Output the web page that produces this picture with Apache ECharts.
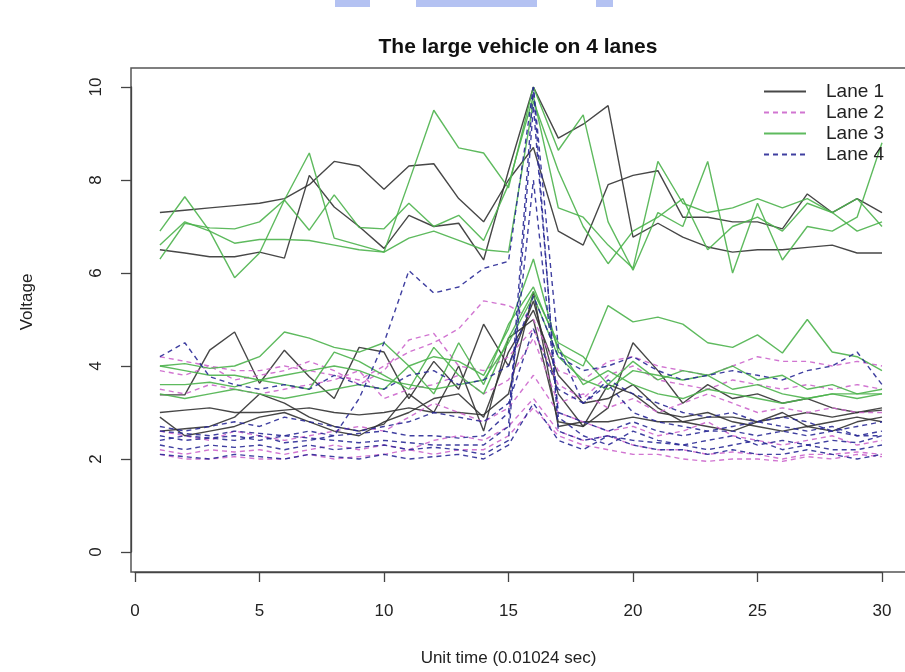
<!DOCTYPE html>
<html>
<head>
<meta charset="utf-8">
<script src="https://cdn.jsdelivr.net/npm/echarts@6/dist/echarts.min.js"></script>
<style>
    html, body { margin: 0; padding: 0; background: #fff; }
    #chart { width: 905px; height: 672px; }
</style>
</head>
<body>
<div id="chart"></div>
<script>
// unit time steps 1..30
let timeSteps = [1,2,3,4,5,6,7,8,9,10,11,12,13,14,15,16,17,18,19,20,21,22,23,24,25,26,27,28,29,30];
let laneNames = ['Lane 1', 'Lane 2', 'Lane 3', 'Lane 4'];
let xTicks = [0, 5, 10, 15, 20, 25, 30];
let yTicks = [0, 2, 4, 6, 8, 10];

// Lane 1 (black solid)
let lane1 = [
    [7.3,7.35,7.4,7.45,7.5,7.6,7.9,8.4,8.3,7.8,8.3,8.35,7.6,7.1,8.0,8.7,6.9,6.6,7.9,8.1,8.2,7.2,7.2,7.1,7.1,6.95,7.7,7.3,7.6,7.3],
    [6.5,6.43,6.35,6.35,6.45,6.32,8.1,7.42,7.0,6.53,7.24,7.0,7.07,6.28,8.2,10.0,8.9,9.2,9.6,6.77,7.07,6.77,6.56,6.45,6.5,6.5,6.55,6.6,6.43,6.43],
    [3.38,3.38,4.34,4.73,3.63,4.34,3.77,3.3,4.4,4.3,3.3,4.1,3.5,4.9,4.0,5.4,3.4,2.7,3.1,4.5,3.9,3.2,3.6,3.3,3.4,3.2,3.3,3.1,3.0,3.05],
    [3.0,3.05,3.1,3.0,3.0,3.05,3.1,3.0,2.95,3.0,3.1,3.0,3.0,2.95,3.4,5.6,2.7,2.8,2.8,2.9,2.8,2.8,2.9,2.9,2.8,2.9,3.0,2.9,3.0,3.1],
    [2.9,2.5,2.6,2.7,2.9,3.0,2.8,2.6,2.5,2.8,3.0,3.3,3.4,2.9,4.3,5.2,3.8,3.2,3.3,3.6,3.1,2.8,2.7,2.6,2.8,3.0,2.7,2.8,2.9,2.8],
    [2.6,2.65,2.7,2.9,3.4,3.2,2.9,2.7,2.6,2.75,3.4,3.0,4.0,2.6,4.6,5.0,2.8,2.7,3.6,3.4,3.0,2.9,3.0,2.8,2.7,2.6,2.7,2.6,2.8,2.9]
];
// Lane 2 (magenta dashed)
let lane2 = [
    [4.2,4.1,4.0,3.9,3.9,4.0,3.9,3.8,3.7,4.0,4.3,4.5,4.8,5.4,5.3,5.0,3.9,3.7,4.1,4.2,4.0,3.9,3.8,4.0,4.2,4.1,4.1,4.0,4.1,4.0],
    [3.9,3.8,4.0,3.7,3.8,3.9,4.1,3.9,3.6,3.9,4.56,4.7,4.0,3.9,4.2,4.8,3.6,3.3,3.8,4.0,3.7,3.6,3.5,3.7,3.6,3.5,3.6,3.5,3.6,3.5],
    [3.5,3.4,3.6,3.5,3.4,3.5,3.6,3.7,3.9,3.3,3.5,3.6,3.8,3.4,3.7,4.6,3.2,3.4,3.1,3.3,3.0,3.2,3.4,3.2,3.0,3.1,3.0,3.1,3.0,3.0],
    [2.2,2.1,2.2,2.15,2.2,2.1,2.2,2.3,2.2,2.3,2.2,2.4,2.5,2.4,2.7,3.3,2.6,2.4,2.5,2.3,2.2,2.2,2.1,2.15,2.1,2.0,2.1,2.1,2.15,2.1],
    [2.1,2.0,2.0,2.05,2.0,2.0,2.1,2.0,2.05,2.1,2.2,2.1,2.2,2.2,2.5,3.1,2.5,2.3,2.2,2.1,2.1,2.0,1.95,2.0,2.0,1.95,2.05,2.0,2.1,2.05],
    [2.6,2.5,2.4,2.6,2.5,2.4,2.5,2.6,2.7,2.6,2.9,3.2,3.0,2.8,3.1,3.8,3.0,2.8,2.6,2.7,2.5,2.6,2.8,2.5,2.4,2.3,2.4,2.5,2.3,2.4]
];
// Lane 3 (green solid)
let lane3 = [
    [6.9,7.64,6.9,5.9,6.43,7.57,8.58,6.75,6.6,6.45,7.96,9.5,8.69,8.58,7.83,10.0,8.64,9.4,7.1,6.06,7.3,7.0,8.4,6.0,7.5,6.28,7.0,6.9,7.2,8.8],
    [6.3,7.07,6.97,6.95,7.1,7.57,6.92,7.68,6.98,6.95,7.5,7.0,7.24,6.7,7.9,9.8,7.4,7.2,6.6,6.1,8.4,7.5,7.3,7.4,7.6,7.4,7.6,7.3,6.9,7.1],
    [6.6,7.1,6.9,6.64,6.72,6.72,6.7,6.6,6.5,6.45,6.75,6.9,6.7,6.5,6.45,9.7,8.2,7.0,6.2,6.9,7.2,7.6,6.5,7.0,7.2,6.9,7.5,7.3,7.6,7.0],
    [4.0,4.05,3.95,4.0,4.2,4.73,4.6,4.4,4.3,4.5,4.0,4.2,4.1,3.8,4.8,6.3,4.3,4.0,5.3,4.95,5.05,4.9,4.5,4.4,4.67,4.28,5.0,4.3,4.2,3.9],
    [3.6,3.6,3.65,3.55,3.7,3.8,3.9,4.0,3.9,3.7,3.6,3.5,3.6,3.7,4.5,5.5,4.2,3.7,3.5,3.9,3.8,3.7,3.8,3.5,3.6,3.4,3.3,3.4,3.4,3.5],
    [4.0,3.9,3.8,3.8,3.7,3.6,3.5,4.3,4.1,3.8,3.5,4.4,3.8,3.4,4.6,5.6,4.5,4.2,3.6,4.1,3.7,3.9,3.8,4.0,3.7,3.8,3.5,3.6,3.4,3.4],
    [3.4,3.3,3.4,3.5,3.4,3.3,3.4,3.5,3.6,3.5,4.0,3.4,4.5,3.6,4.9,5.7,4.4,3.6,3.9,3.6,3.4,3.3,3.5,3.4,3.3,3.2,3.3,3.4,3.3,3.4]
];
// Lane 4 (navy dashed)
let lane4 = [
    [2.5,2.4,2.45,2.5,2.4,2.5,2.45,2.4,2.35,2.4,2.35,2.3,2.3,2.3,2.7,10.0,2.6,2.4,2.5,2.4,2.35,2.3,2.4,2.5,2.3,2.4,2.3,2.4,2.35,2.5],
    [2.3,2.2,2.3,2.25,2.3,2.2,2.3,2.2,2.25,2.3,2.2,2.25,2.2,2.1,2.4,9.6,2.9,2.5,2.3,2.6,2.4,2.3,2.2,2.3,2.4,2.2,2.3,2.2,2.2,2.3],
    [2.4,2.5,2.45,2.4,2.5,2.35,2.4,2.5,3.3,4.5,6.05,5.57,5.7,6.1,6.25,10.0,4.4,3.2,3.6,3.0,2.8,2.7,2.6,2.7,2.8,2.9,2.8,2.6,2.7,2.8],
    [2.6,2.55,2.5,2.6,2.55,2.5,2.6,2.5,2.55,2.6,2.5,2.5,2.45,2.5,3.0,8.0,3.0,2.8,2.6,2.8,2.6,2.5,2.6,2.6,2.5,2.6,2.5,2.6,2.5,2.5],
    [4.2,4.5,3.77,3.6,3.5,3.6,3.5,3.8,3.6,3.5,3.8,3.9,3.6,3.7,4.0,5.5,4.2,3.9,4.0,4.2,3.9,3.7,3.8,3.9,3.8,3.7,3.9,4.0,4.3,3.6],
    [2.7,2.6,2.7,2.8,2.7,2.9,2.8,2.7,2.6,2.7,2.8,3.0,2.9,2.8,3.2,4.8,3.5,3.2,3.7,3.4,3.2,3.0,2.9,3.0,2.8,2.7,2.6,2.7,2.5,2.6],
    [2.1,2.05,2.0,2.1,2.05,2.0,2.1,2.05,2.0,2.1,2.0,2.05,2.1,2.0,2.3,3.2,2.4,2.2,2.5,2.3,2.2,2.2,2.1,2.2,2.1,2.1,2.2,2.1,2.0,2.1]
];

let laneData = [lane1, lane2, lane3, lane4];
let laneColors = ['#333333', '#cc66cc', '#4cb34c', '#2a2a96'];
let laneDash = ['solid', [5, 4], 'solid', [5, 4]];

let myChart = echarts.init(document.getElementById('chart'));

let seriesList = [];
for (let l = 0; l < laneData.length; l++) {
    for (let k = 0; k < laneData[l].length; k++) {
        let pts = [];
        for (let i = 0; i < timeSteps.length; i++) {
            pts.push([timeSteps[i], laneData[l][k][i]]);
        }
        seriesList.push({
            name: laneNames[l],
            type: 'line',
            data: pts,
            symbol: 'none',
            silent: true,
            animation: false,
            lineStyle: {
                color: laneColors[l],
                width: 1.4,
                type: laneDash[l],
                opacity: 0.9
            },
            itemStyle: { color: laneColors[l] }
        });
    }
}

let fontFam = 'Liberation Sans, Arial, sans-serif';

myChart.setOption({
    backgroundColor: '#ffffff',
    animation: false,
    grid: {
        left: 135,
        top: 87,
        width: 747,
        height: 465,
        containLabel: false
    },
    legend: {
        data: laneNames,
        orient: 'vertical',
        left: 758,
        top: 77,
        itemWidth: 42,
        itemHeight: 14,
        itemGap: 2,
        itemStyle: { opacity: 0 },
        textStyle: {
            fontFamily: fontFam,
            fontSize: 19,
            color: '#222',
            padding: [0, 0, 0, 15]
        }
    },
    xAxis: {
        type: 'value',
        min: xTicks[0],
        max: xTicks[xTicks.length - 1],
        interval: 5,
        offset: 20,
        name: 'Unit time (0.01024 sec)',
        nameLocation: 'middle',
        nameGap: 78,
        nameTextStyle: { fontFamily: fontFam, fontSize: 17, color: '#222' },
        axisLine: { show: true, onZero: false, lineStyle: { color: '#444', width: 1.3 } },
        axisTick: { show: true, length: 10, lineStyle: { color: '#444', width: 1.3 } },
        axisLabel: { margin: 31, fontFamily: fontFam, fontSize: 17, color: '#222' },
        splitLine: { show: false }
    },
    yAxis: {
        type: 'value',
        min: yTicks[0],
        max: yTicks[yTicks.length - 1],
        interval: 2,
        offset: 4,
        axisLine: { show: true, onZero: false, lineStyle: { color: '#444', width: 1.3 } },
        axisTick: { show: true, length: 10, lineStyle: { color: '#444', width: 1.3 } },
        axisLabel: { rotate: 90, margin: 26, fontFamily: fontFam, fontSize: 17, color: '#222' },
        splitLine: { show: false }
    },
    graphic: [
        {
            type: 'rect',
            shape: { x: 131, y: 68, width: 780, height: 504 },
            style: { fill: 'none', stroke: '#555', lineWidth: 1.5 },
            silent: true
        },
        {
            type: 'text',
            x: 518,
            y: 47,
            style: {
                text: 'The large vehicle on 4 lanes',
                fontFamily: fontFam,
                fontSize: 21,
                fontWeight: 'bold',
                fill: '#111',
                align: 'center',
                verticalAlign: 'middle'
            }
        },
        {
            type: 'text',
            x: 27,
            y: 302,
            rotation: Math.PI / 2,
            style: {
                text: 'Voltage',
                fontFamily: fontFam,
                fontSize: 17,
                fill: '#222',
                align: 'center',
                verticalAlign: 'middle'
            }
        },
        { type: 'rect', shape: { x: 335, y: 0, width: 35, height: 7 }, style: { fill: '#b4c2f2' }, silent: true },
        { type: 'rect', shape: { x: 416, y: 0, width: 121, height: 7 }, style: { fill: '#b4c2f2' }, silent: true },
        { type: 'rect', shape: { x: 596, y: 0, width: 17, height: 7 }, style: { fill: '#b4c2f2' }, silent: true }
    ],
    series: seriesList
});
</script>
</body>
</html>
